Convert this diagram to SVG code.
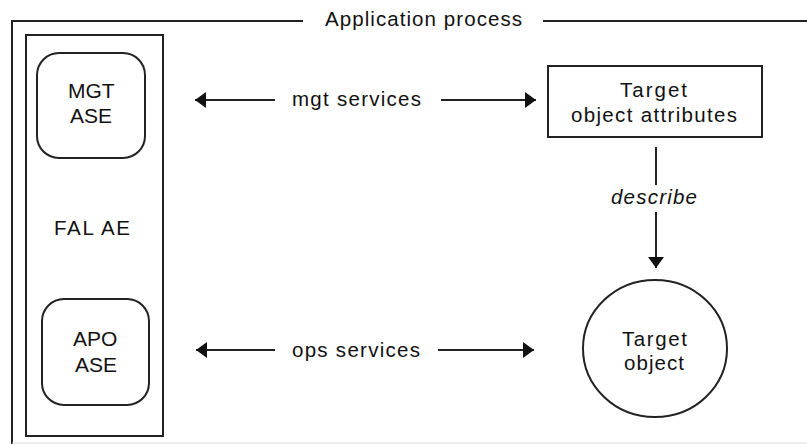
<svg xmlns="http://www.w3.org/2000/svg" width="807" height="444" viewBox="0 0 807 444">
  <style>
    .frame { fill: none; stroke: #222; stroke-width: 2; }
    .box { fill: #fff; stroke: #222; stroke-width: 2; }
    .conn { fill: none; stroke: #222; stroke-width: 2; }
    text { font-family: "Liberation Sans", Arial, sans-serif; font-size: 20.5px; fill: #111; }
    .big { font-size: 21px; }
    .it { font-style: italic; }
  </style>
  <defs>
    <marker id="arrow" viewBox="0 0 10 10" refX="10" refY="5" markerUnits="userSpaceOnUse" markerWidth="11" markerHeight="16" orient="auto" preserveAspectRatio="none">
      <path d="M0,0 L10,5 L0,10 z" fill="#111"/>
    </marker>
  </defs>

  <rect width="807" height="444" fill="#fff"/>

  <g id="application-process">
    <path class="frame" d="M303,21 H12 V444"/>
    <path class="frame" d="M543,21 H807"/>
    <line x1="12" y1="443" x2="807" y2="443" stroke="#ddd" stroke-width="1"/>
    <text x="325" y="26" textLength="197">Application process</text>
  </g>

  <g id="fal-ae">
    <rect class="box" x="26" y="35" width="137" height="401"/>
    <text x="54" y="235" textLength="76">FAL AE</text>
  </g>

  <g id="mgt-ase">
    <rect class="box" x="37" y="53" width="108" height="105" rx="22" ry="22"/>
    <text class="big" x="68" y="98">MGT</text>
    <text class="big" x="70" y="123">ASE</text>
  </g>

  <g id="apo-ase">
    <rect class="box" x="42" y="299" width="107" height="106" rx="22" ry="22"/>
    <text class="big" x="73" y="346">APO</text>
    <text class="big" x="75" y="372">ASE</text>
  </g>

  <g id="target-object-attributes">
    <rect class="box" x="548" y="66" width="214" height="71"/>
    <text x="620" y="97" textLength="67">Target</text>
    <text x="571" y="122" textLength="166">object attributes</text>
  </g>

  <g id="target-object">
    <ellipse class="box" cx="655" cy="348.5" rx="72" ry="68.5"/>
    <text x="622" y="346" textLength="65">Target</text>
    <text x="624" y="370" textLength="60">object</text>
  </g>

  <g id="connectors">
    <line class="conn" x1="275" y1="100" x2="195" y2="100" marker-end="url(#arrow)"/>
    <line class="conn" x1="441" y1="100" x2="536" y2="100" marker-end="url(#arrow)"/>
    <text x="292" y="106" textLength="129">mgt services</text>

    <line class="conn" x1="275" y1="350" x2="196" y2="350" marker-end="url(#arrow)"/>
    <line class="conn" x1="438" y1="350" x2="534" y2="350" marker-end="url(#arrow)"/>
    <text x="292" y="357" textLength="128">ops services</text>

    <line class="conn" x1="656" y1="147" x2="656" y2="185"/>
    <line class="conn" x1="656" y1="212" x2="656" y2="268" marker-end="url(#arrow)"/>
    <text class="it" x="611" y="204" textLength="86">describe</text>
  </g>
</svg>
